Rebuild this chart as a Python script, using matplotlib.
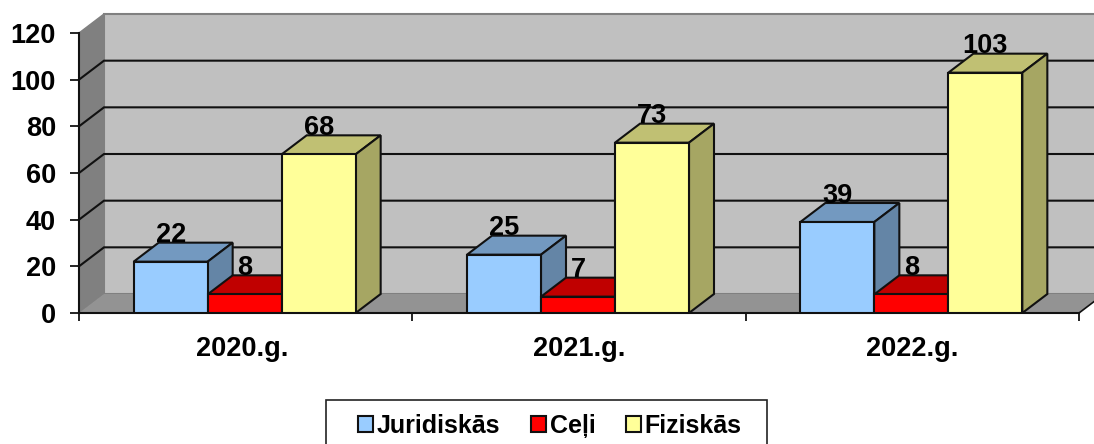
import numpy as np
import matplotlib
matplotlib.use("Agg")
import matplotlib.pyplot as plt
from matplotlib.patches import Polygon, Patch, Rectangle

plt.rcParams["font.family"] = ["Liberation Sans", "DejaVu Sans"]
plt.rcParams["font.weight"] = "bold"

# Chart values
years = ["2020.g.", "2021.g.", "2022.g."]
juridiskas = [22, 25, 39]
celi = [8, 7, 8]
fiziskas = [68, 73, 103]
series_names = ["Juridiskās", "Ceļi", "Fiziskās"]
y_ticks = [0, 20, 40, 60, 80, 100, 120]

# Front, top and side shades of each series
front_cols = ["#99CCFF", "#FF0000", "#FFFF99"]
top_cols = ["#7399C0", "#C00000", "#C0C073"]
side_cols = ["#6485A6", "#A60000", "#A6A663"]

W, H = 1094, 444
fig = plt.figure(figsize=(W / 100, H / 100), dpi=100)
ax = fig.add_axes([79 / W, (H - 313) / H, 1000 / W, 280 / H])
ax.set_xlim(0, 3)
ax.set_ylim(0, 120)

# 3D offset of the back wall, in data units
dx = 25 / (1000 / 3)
dy = 19 / (280 / 120)

# Walls and floor
ax.add_patch(Polygon([(dx, dy), (3 + dx, dy), (3 + dx, 120 + dy), (dx, 120 + dy)],
                     fc="#C0C0C0", ec="#808080", lw=1.5, clip_on=False, zorder=1))
ax.add_patch(Polygon([(0, 0), (dx, dy), (dx, 120 + dy), (0, 120)],
                     fc="#808080", ec="#808080", lw=1, clip_on=False, zorder=1.1))
ax.add_patch(Polygon([(0, 0), (3, 0), (3 + dx, dy), (dx, dy)],
                     fc="#939393", ec="none", clip_on=False, zorder=1.1))

# Gridlines run along the back wall and down the side wall
for t in y_ticks[1:-1]:
    ax.plot([0, dx, 3 + dx], [t, t + dy, t + dy], color="#111111", lw=1.5,
            clip_on=False, zorder=1.5, solid_joinstyle="miter")
ax.plot([3, 3 + dx], [0, dy], color="#111111", lw=1.2, clip_on=False, zorder=1.5)

bar_w = 222 / 3 / (1000 / 3)
all_series = [juridiskas, celi, fiziskas]
centers = np.arange(len(years)) + 0.5
z = 2
for g, c in enumerate(centers):
    for s, vals in enumerate(all_series):
        v = vals[g]
        x0 = c + (s - 1.5) * bar_w - 0.003
        x1 = x0 + bar_w
        ax.bar(x0, v, bar_w, align="edge", color=front_cols[s], edgecolor="#111111",
               linewidth=1.5, zorder=z + 0.2)
        ax.add_patch(Polygon([(x0, v), (x1, v), (x1 + dx, v + dy), (x0 + dx, v + dy)],
                             fc=top_cols[s], ec="#111111", lw=1.5, zorder=z, clip_on=False))
        ax.add_patch(Polygon([(x1, 0), (x1 + dx, dy), (x1 + dx, v + dy), (x1, v)],
                             fc=side_cols[s], ec="#111111", lw=1.5, zorder=z, clip_on=False))
        ax.annotate(str(v), (x0 + bar_w / 2, v), xytext=(0, 19), textcoords="offset points",
                    ha="center", va="center", fontsize=19.5, fontweight="bold",
                    color="black", zorder=20, annotation_clip=False)
        z += 1

# Axes
for side in ["top", "right"]:
    ax.spines[side].set_visible(False)
for side in ["left", "bottom"]:
    ax.spines[side].set_linewidth(1.5)
    ax.spines[side].set_color("#111111")
    ax.spines[side].set_zorder(1.6)
ax.set_yticks(y_ticks)
ax.tick_params(axis="y", length=6.5, width=1.2, pad=10, labelsize=19.5)
ax.set_xticks([0, 1, 2, 3])
ax.set_xticklabels([])
ax.set_xticks(centers + np.array([-0.009, 0, 0]), minor=True)
ax.set_xticklabels(years, minor=True, fontsize=19.5, fontweight="bold")
ax.tick_params(axis="x", which="major", length=6, width=1.2)
ax.tick_params(axis="x", which="minor", length=0, pad=16.5)
for lab in ax.get_yticklabels():
    lab.set_fontweight("bold")

# Legend box runs past the bottom edge of the picture
fig.add_artist(Rectangle((326 / W, -0.05), 441 / W, (H - 400) / H + 0.05, transform=fig.transFigure,
                         fc="white", ec="#222222", lw=1.2))
handles = [Patch(fc=col, ec="#111111", lw=1.5) for col in front_cols]
leg = fig.legend(handles, series_names, ncols=3, loc="upper left",
                 bbox_to_anchor=(344 / W, (H - 400) / H), borderaxespad=0,
                 frameon=False, handlelength=0.6, handleheight=0.6, handletextpad=0.17,
                 columnspacing=1.2, borderpad=0.55, prop={"weight": "bold", "size": 18})

plt.savefig("out.png", dpi=100)
